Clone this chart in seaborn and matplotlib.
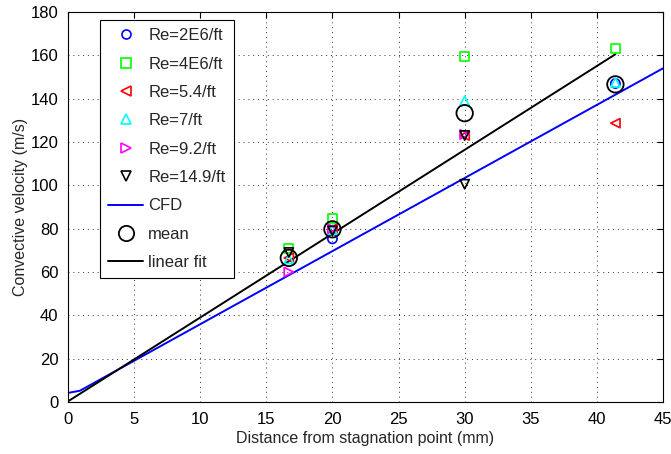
import matplotlib
matplotlib.use("Agg")
import matplotlib.pyplot as plt
import seaborn as sns
import pandas as pd
from matplotlib.lines import Line2D

# ---- data ----
re2e6_x = [20, 41.4]
re2e6_y = [75.3, 147.0]
re4e6_x = [16.7, 20, 30, 41.4]
re4e6_y = [71.0, 84.6, 159.4, 163.2]
re54_x = [16.7, 20, 30, 41.4]
re54_y = [66.5, 80.0, 123.0, 128.7]
re7_x = [16.7, 20, 30, 41.4]
re7_y = [66.0, 79.5, 139.0, 147.5]
re92_x = [16.7, 20, 30]
re92_y = [60.0, 80.0, 123.5]
re149_x = [16.7, 20, 30, 30]
re149_y = [69.0, 79.0, 123.0, 100.5]
cfd_x = [0, 0.9, 45]
cfd_y = [4.2, 5.2, 154.0]
mean_x = [16.7, 20, 30, 41.4]
mean_y = [66.5, 79.7, 133.3, 146.6]
fit_x = [0, 41.4]
fit_y = [0.3, 160.5]

labels = ["Re=2E6/ft", "Re=4E6/ft", "Re=5.4/ft", "Re=7/ft", "Re=9.2/ft", "Re=14.9/ft"]
series = [
    (re2e6_x, re2e6_y, "o", (0, 0, 1)),
    (re4e6_x, re4e6_y, "s", (0, 1, 0)),
    (re54_x, re54_y, "<", (1, 0, 0)),
    (re7_x, re7_y, "^", (0, 1, 1)),
    (re92_x, re92_y, ">", (1, 0, 1)),
    (re149_x, re149_y, "v", (0, 0, 0)),
]

sns.set_style("white")
plt.rcParams["font.family"] = ["Liberation Sans", "DejaVu Sans"]

fig = plt.figure(figsize=(6.71, 4.54), dpi=100)
ax = fig.add_axes([68 / 671, 1 - 402 / 454, (663 - 68) / 671, (402 - 12) / 454])

handles = []
for (xs, ys, m, c), lab in zip(series, labels):
    df = pd.DataFrame({"x": xs, "y": ys})
    sns.scatterplot(data=df, x="x", y="y", marker=m, s=44, color=c,
                    linewidth=1.2, ax=ax, legend=False, zorder=3)
    coll = ax.collections[-1]
    coll.set_facecolor("none")
    coll.set_edgecolor(c)
    handles.append(Line2D([], [], linestyle="none", marker=m, markersize=6.5,
                          markerfacecolor="none", markeredgecolor=c,
                          markeredgewidth=1.2))

df_cfd = pd.DataFrame({"x": cfd_x, "y": cfd_y})
sns.lineplot(data=df_cfd, x="x", y="y", color=(0, 0, 1), linewidth=1.4,
             ax=ax, legend=False, sort=False, estimator=None, zorder=2)
handles.append(Line2D([], [], color=(0, 0, 1), linewidth=1.4))

df_mean = pd.DataFrame({"x": mean_x, "y": mean_y})
sns.scatterplot(data=df_mean, x="x", y="y", marker="o", s=140, color="k",
                linewidth=1.3, ax=ax, legend=False, zorder=4)
coll = ax.collections[-1]
coll.set_facecolor("none")
coll.set_edgecolor("k")
handles.append(Line2D([], [], linestyle="none", marker="o", markersize=11,
                      markerfacecolor="none", markeredgecolor="k",
                      markeredgewidth=1.3))

df_fit = pd.DataFrame({"x": fit_x, "y": fit_y})
sns.lineplot(data=df_fit, x="x", y="y", color="k", linewidth=1.4,
             ax=ax, legend=False, sort=False, estimator=None, zorder=2)
handles.append(Line2D([], [], color="k", linewidth=1.4))

all_labels = labels + ["CFD", "mean", "linear fit"]

ax.set_xlim(0, 45)
ax.set_ylim(0, 180)
ax.set_xticks(range(0, 46, 5))
ax.set_yticks(range(0, 181, 20))
ax.grid(True, linestyle=(0, (1, 4)), color="k", linewidth=0.7, alpha=0.8)
ax.tick_params(direction="in", top=True, right=True, length=4, width=0.8,
               labelsize=12, colors="k", pad=7)
for sp in ax.spines.values():
    sp.set_color("k")
    sp.set_linewidth(0.8)
    sp.set_visible(True)

ax.set_xlabel("Distance from stagnation point (mm)", fontsize=11.5, labelpad=3)
ax.set_ylabel("Convective velocity (m/s)", fontsize=11.5, labelpad=2)

leg = ax.legend(handles, all_labels, loc="upper left",
                bbox_to_anchor=((100 - 68) / 595, 1 - (20 - 12) / 390),
                fontsize=12, frameon=True, fancybox=False, framealpha=1,
                edgecolor="k", borderpad=0.5, labelspacing=0.8,
                handlelength=2.1, handletextpad=0.3, borderaxespad=0)
leg.get_frame().set_linewidth(0.8)

fig.savefig("out.png", dpi=100)
